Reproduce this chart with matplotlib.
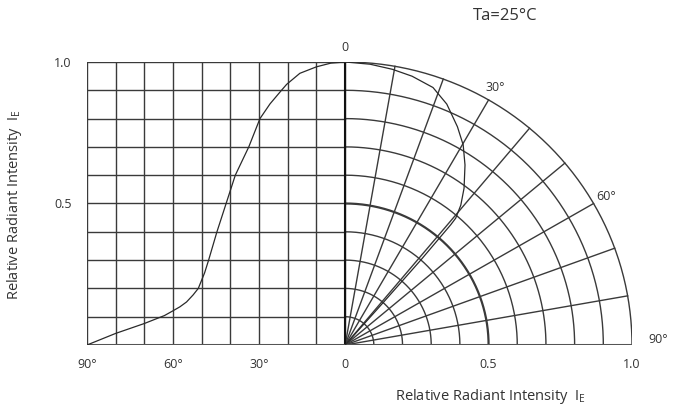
import numpy as np
import matplotlib
matplotlib.use("Agg")
from matplotlib import pyplot as plt

plt.rcParams['font.family'] = ['Open Sans', 'DejaVu Sans']
plt.rcParams['mathtext.default'] = 'regular'

# left half: intensity vs angle (cartesian)
ang_left = [90, 80, 70, 63, 60, 57.6, 55.3, 53, 51.2, 49, 47.6, 44.7, 41.5,
            38.3, 33.6, 29.7, 26.2, 22.2, 20.4, 15.8, 10, 5, 0]
val_left = [0, 0.041, 0.076, 0.104, 0.121, 0.135, 0.152, 0.177, 0.2, 0.255,
            0.3, 0.4, 0.5, 0.6, 0.7, 0.8, 0.852, 0.9, 0.921, 0.96, 0.983,
            0.996, 1.0]

# right half: polar curve (angle from vertical, radius)
ang_polar = [0, 5, 9.6, 13.8, 18.6, 22.6, 26.9, 30.2, 33.3, 36.8, 39.2, 40.7,
             40.9, 41.3, 41.5, 41.5]
r_polar = [1.0, 0.996, 0.988, 0.978, 0.96, 0.922, 0.865, 0.818, 0.761,
           0.692, 0.638, 0.591, 0.562, 0.4, 0.2, 0.0]

xtick_pos = [-0.9, -0.6, -0.3, 0, 0.5, 1.0]
xtick_lab = ["90°", "60°", "30°", "0", "0.5", "1.0"]
ytick_pos = [0.5, 1.0]
ytick_lab = ["0.5", "1.0"]
angle_marks = ["0", "30°", "60°"]
angle_mark_deg = [0, 30, 60]

fig = plt.figure(figsize=(6.85, 4.07), dpi=100)
ax = fig.add_axes([87/685, 62/407, 545/685, 283/407])
ax.set_xlim(-0.9, 1.0)
ax.set_ylim(0, 1.0)
for s in ax.spines.values():
    s.set_visible(False)

gc = "#3a3a3a"
# cartesian grid on the left
for k in range(10):
    x = -0.9 + 0.1 * k
    ax.plot([x, x], [0, 1.0], color=gc, lw=1.0)
for k in range(1, 11):
    y = 0.1 * k
    ax.plot([-0.9, 0], [y, y], color=gc, lw=1.0)

# polar grid on the right
t = np.radians(np.linspace(0, 90, 200))
for k in range(1, 11):
    r = 0.1 * k
    ax.plot(r * np.sin(t), r * np.cos(t), color=gc,
            lw=1.6 if k == 5 else 1.0)
for d in range(10, 90, 10):
    a = np.radians(d)
    ax.plot([0, np.sin(a)], [0, np.cos(a)], color=gc, lw=1.0)

ax.plot([0, 0], [0, 1.0], color="#111111", lw=1.5)
ax.plot([-0.9, 1.0], [0, 0], color="#555555", lw=2.2, solid_capstyle="butt")

# curves
ax.plot(-np.array(ang_left) / 100.0, val_left, color="#2a2a2a", lw=0.9)
ap = np.radians(ang_polar)
rp = np.array(r_polar)
ax.plot(rp * np.sin(ap), rp * np.cos(ap), color="#2a2a2a", lw=0.9)

ax.set_xticks(xtick_pos, xtick_lab)
ax.set_yticks(ytick_pos, ytick_lab)
ax.tick_params(length=0, labelsize=9, colors="#333333")
ax.tick_params(axis='x', pad=9)
ax.tick_params(axis='y', pad=11)

for lab, d in zip(angle_marks, angle_mark_deg):
    a = np.radians(d)
    ax.text(1.05 * np.sin(a), 1.05 * np.cos(a), lab, fontsize=9,
            color="#333333", ha="center", va="center")
ax.text(1.09, 0.02, "90°", fontsize=9, color="#333333", ha="center", va="center")

fig.text(15/685, 1 - 205/407, r"Relative Radiant Intensity  $I_{E}$", rotation=90,
         fontsize=10.5, color="#333333", ha="center", va="center")
fig.text(490/685, 1 - 397/407, r"Relative Radiant Intensity  $I_{E}$",
         fontsize=10.5, color="#333333", ha="center", va="center")
fig.text(505/685, 1 - 16/407, "Ta=25°C", fontsize=12, color="#333333",
         ha="center", va="center")

fig.savefig("out.png", dpi=100)
